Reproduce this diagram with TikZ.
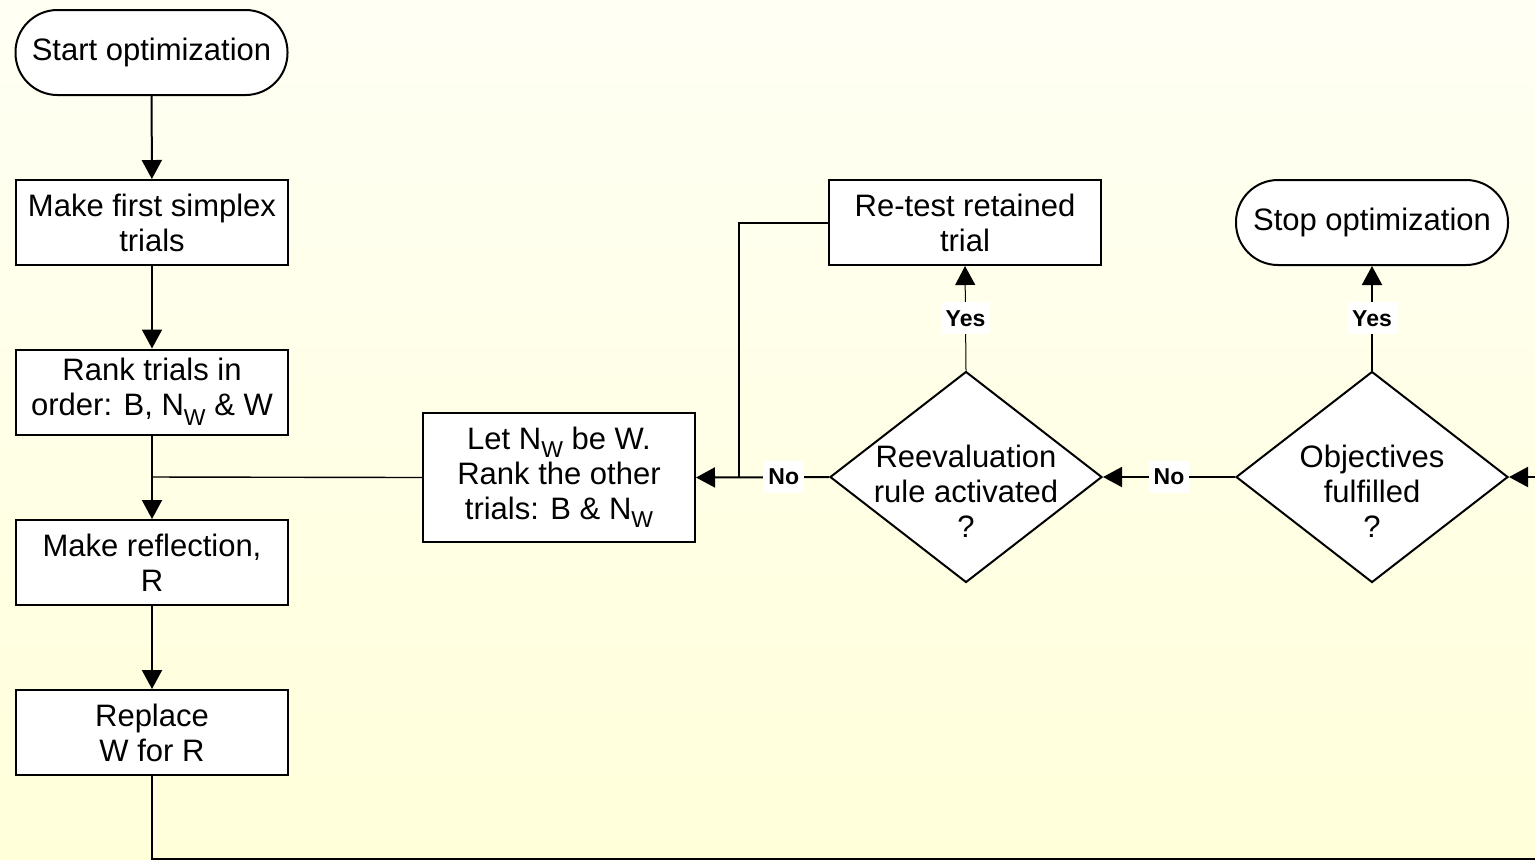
\documentclass[tikz,border=0pt]{standalone}
\usepackage{fontspec}
\setmainfont{Liberation Sans}
\usetikzlibrary{shapes.geometric,arrows.meta}
\definecolor{bgtop}{HTML}{FFFFF4}
\definecolor{bgbot}{HTML}{FFFFDA}
\newcommand\subw[2][-4pt]{\raisebox{#1}{\fontsize{11.5}{12}\selectfont #2}}
\begin{document}
\begin{tikzpicture}[x=0.5pt,y=-0.5pt,
  every node/.style={font=\fontsize{15.5}{17.5}\selectfont},
  proc/.style={draw, line width=1pt, fill=white, minimum width=136pt, minimum height=42.5pt, align=center, inner sep=0pt},
  term/.style={proc, rounded corners=21pt},
  decision/.style={draw, diamond, line width=1pt, fill=white, minimum width=136pt, minimum height=105.5pt, inner sep=0pt},
  dtext/.style={align=center, inner sep=0pt},
  conn/.style={line width=1pt, -{Triangle[length=9.5pt,width=10pt]}},
  thinconn/.style={line width=0.5pt, -{Triangle[length=9.5pt,width=10pt]}},
  plain/.style={line width=1pt},
  thinplain/.style={line width=0.7pt},
  lbl/.style={fill=white, font=\bfseries\fontsize{11.5}{12}\selectfont, inner xsep=2.5pt, inner ysep=4pt}
]
\useasboundingbox (0,0) rectangle (1535,859);
\shade[top color=bgtop, bottom color=bgbot] (0,0) rectangle (1535,859);

\node[term] (start) at (151.5,52.5) {Start optimization};
\node[proc] (first) at (152,222.5) {Make first simplex\\trials};
\node[proc] (rank) at (152,392) {Rank trials in\\order: B, N\subw[-5pt]{W} \& W};
\node[proc] (refl) at (152,562.5) {Make reflection,\\R};
\node[proc] (repl) at (152,732.5) {Replace\\W for R};
\node[proc, minimum height=64.5pt] (let) at (559,477.5) {Let N\subw{W} be W.\\Rank the other\\trials: B \& N\subw{W}};
\node[proc] (retest) at (965,222.5) {Re-test retained\\trial};
\node[term] (stop) at (1372,222.5) {Stop optimization};
\node[decision] (reeval) at (966,477) {};
\node[dtext] (reevaltxt) at (966,491) {Reevaluation\\rule activated\\?};
\node[decision] (obj) at (1372,477) {};
\node[dtext] (objtxt) at (1372,491) {Objectives\\fulfilled\\?};

\coordinate (j1) at (152,477);
\coordinate (j2) at (739,477);
\coordinate (bl) at (152,859);
\coordinate (br) at (1600,859);
\coordinate (rr) at (1600,477);

\draw[conn] (start) -- (first);
\draw[conn] (first) -- (rank);
\draw[conn] (rank) -- (refl);
\draw[conn] (refl) -- (repl);
\draw[thinplain] (let.west) -- (j1);
\draw[conn] (obj.west) -- node[lbl]{No} (reeval.east);
\draw[conn] (reeval.west) -- node[lbl,pos=0.34]{No} (let.east);
\draw[plain] (retest.west) -| (j2);
\draw[thinconn] (reeval.north) -- node[lbl]{Yes} (retest.south);
\draw[conn] (obj.north) -- node[lbl]{Yes} (stop.south);
\draw[conn] (repl.south) -- (bl) -- (br) -- (rr) -- (obj.east);
\end{tikzpicture}
\end{document}
